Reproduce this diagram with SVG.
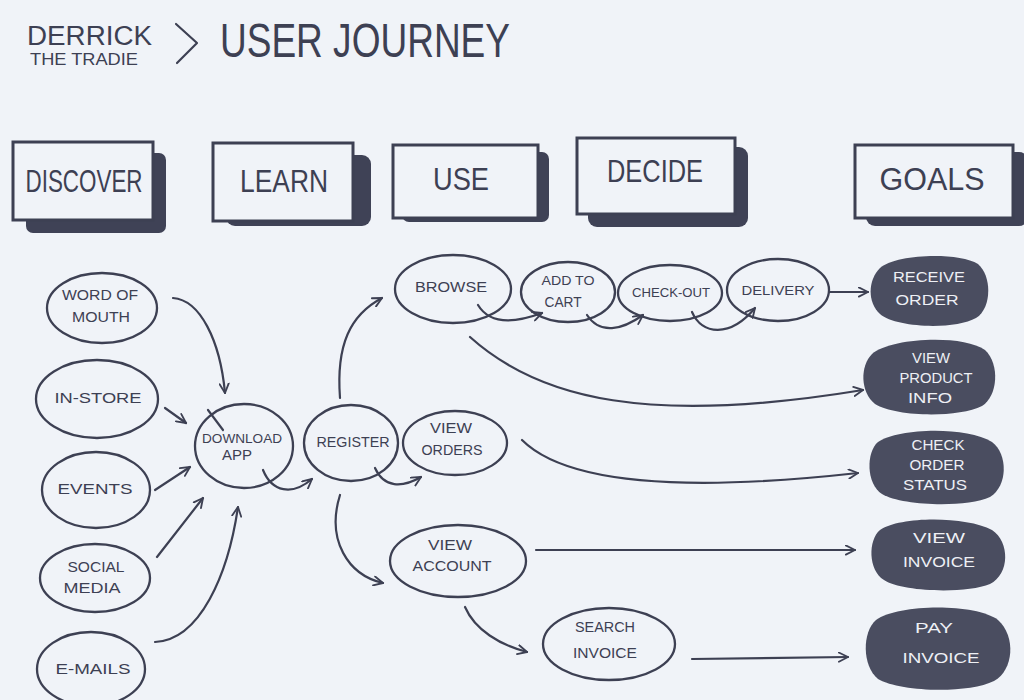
<svg xmlns="http://www.w3.org/2000/svg" width="1024" height="700" viewBox="0 0 1024 700">
  <style>
    .ink { fill: none; stroke: #3d4053; stroke-width: 2.2; stroke-linecap: round; stroke-linejoin: round; }
    .box { fill: #f0f3f8; stroke: #3d4053; stroke-width: 3; }
    .shadow { fill: #3f4256; }
    .node { fill: none; stroke: #3d4053; stroke-width: 2.3; }
    .goal { fill: #4a4d60; }
    .t { font-family: "Liberation Sans", "DejaVu Sans", sans-serif; fill: #3d4053; text-anchor: middle; }
    .start { text-anchor: start; }
    .hdr { font-size: 31px; }
    .sm { font-size: 15px; }
    .gt { font-family: "Liberation Sans", "DejaVu Sans", sans-serif; fill: #eef0f5; text-anchor: middle; font-size: 15px; }
    .arrow { fill: none; stroke: #3d4053; stroke-width: 2.2; stroke-linecap: round; marker-end: url(#head); }
  </style>
  <defs>
    <marker id="head" viewBox="0 0 12 12" refX="11" refY="6" markerWidth="11" markerHeight="11" markerUnits="userSpaceOnUse" orient="auto">
      <path d="M1,1 L11,6 L1,11" fill="none" stroke="#3d4053" stroke-width="2" stroke-linecap="round" stroke-linejoin="round"/>
    </marker>
    <marker id="headL" viewBox="0 0 12 12" refX="11" refY="6" markerWidth="22" markerHeight="22" markerUnits="userSpaceOnUse" orient="auto">
      <path d="M1,1 L11,6 L1,11" fill="none" stroke="#3d4053" stroke-width="1.4" stroke-linecap="round" stroke-linejoin="round"/>
    </marker>
  </defs>

  <rect width="1024" height="700" fill="#f0f3f8"/>

  <!-- title -->
  <g id="title">
    <text class="t start" x="27" y="45" font-size="27" textLength="125" lengthAdjust="spacingAndGlyphs">DERRICK</text>
    <text class="t start" x="30" y="65" font-size="16" textLength="108" lengthAdjust="spacingAndGlyphs">THE TRADIE</text>
    <path class="ink" d="M176,24 L197,43 L177,63" stroke-width="3.8"/>
    <text class="t start" x="220" y="57" font-size="48" textLength="290" lengthAdjust="spacingAndGlyphs">USER JOURNEY</text>
  </g>

  <!-- stage headers -->
  <g id="hdr-discover">
    <rect class="shadow" x="26" y="153" width="140" height="80" rx="7"/>
    <rect class="box" x="13" y="142" width="140" height="78"/>
    <text class="t hdr" x="84" y="192" textLength="117" lengthAdjust="spacingAndGlyphs">DISCOVER</text>
  </g>
  <g id="hdr-learn">
    <rect class="shadow" x="226" y="155" width="145" height="71" rx="9"/>
    <rect class="box" x="213" y="143" width="140" height="78"/>
    <text class="t hdr" x="284" y="192" textLength="88" lengthAdjust="spacingAndGlyphs">LEARN</text>
  </g>
  <g id="hdr-use">
    <rect class="shadow" x="402" y="152" width="147" height="70" rx="7"/>
    <rect class="box" x="393" y="145" width="145" height="73"/>
    <text class="t hdr" x="461" y="190" textLength="56" lengthAdjust="spacingAndGlyphs">USE</text>
  </g>
  <g id="hdr-decide">
    <rect class="shadow" x="588" y="147" width="160" height="80" rx="9"/>
    <rect class="box" x="577" y="138" width="158" height="76"/>
    <text class="t hdr" x="655" y="182" textLength="96" lengthAdjust="spacingAndGlyphs">DECIDE</text>
  </g>
  <g id="hdr-goals">
    <rect class="shadow" x="866" y="152" width="162" height="74" rx="9"/>
    <rect class="box" x="855" y="145" width="158" height="73"/>
    <text class="t hdr" x="932" y="190" textLength="105" lengthAdjust="spacingAndGlyphs">GOALS</text>
  </g>

  <!-- connectors -->
  <g id="connectors">
    <path class="arrow" marker-end="url(#headL)" d="M173,298 C200,300 220,340 225,393"/>
    <path class="arrow" marker-end="url(#headL)" d="M165,408 L186,423" stroke-width="3.2"/>
    <path class="ink" d="M208,410 L223,430" stroke-width="1.6"/>
    <path class="arrow" marker-end="url(#headL)" d="M155,490 L190,467" stroke-width="2.6"/>
    <path class="arrow" marker-end="url(#headL)" d="M157,557 L203,498"/>
    <path class="arrow" marker-end="url(#headL)" d="M155,642 C200,640 228,575 238,507" stroke-width="2.8"/>
    <path class="arrow" d="M263,470 C272,492 292,496 312,479"/>
    <path class="arrow" marker-end="url(#headL)" d="M340,398 C336,345 350,315 382,298" stroke-width="2.6"/>
    <path class="arrow" marker-end="url(#headL)" d="M340,495 C326,540 348,575 383,583" stroke-width="2.6"/>
    <path class="arrow" d="M375,468 C384,488 402,488 421,477"/>
    <path class="arrow" d="M478,305 C490,325 515,323 542,313"/>
    <path class="arrow" d="M587,315 C600,335 622,330 643,315"/>
    <path class="arrow" d="M692,312 C702,335 730,338 755,308"/>
    <path class="arrow" marker-end="url(#headL)" d="M829,292 L868,292" stroke-width="2.4"/>
    <path class="arrow" marker-end="url(#headL)" d="M470,337 C540,400 650,425 863,390" stroke-width="2.4"/>
    <path class="arrow" marker-end="url(#headL)" d="M522,440 C560,478 660,495 858,473" stroke-width="2.4"/>
    <path class="arrow" marker-end="url(#headL)" d="M536,550 L855,550" stroke-width="1.8"/>
    <path class="arrow" marker-end="url(#headL)" d="M465,607 C475,630 500,645 527,652" stroke-width="2.6"/>
    <path class="arrow" marker-end="url(#headL)" d="M692,659 L848,657" stroke-width="1.8"/>
  </g>

  <!-- discover sources -->
  <g id="word-of-mouth">
    <ellipse class="node" cx="102" cy="308" rx="55" ry="35"/>
    <text class="t sm" x="100" y="300" textLength="76" lengthAdjust="spacingAndGlyphs">WORD OF</text>
    <text class="t sm" x="101" y="322" textLength="58" lengthAdjust="spacingAndGlyphs">MOUTH</text>
  </g>
  <g id="in-store">
    <ellipse class="node" cx="97" cy="399" rx="61" ry="39" stroke-width="2.7"/>
    <text class="t sm" x="98" y="403" font-size="17" textLength="87" lengthAdjust="spacingAndGlyphs">IN-STORE</text>
  </g>
  <g id="events">
    <ellipse class="node" cx="96" cy="490" rx="54" ry="38" stroke-width="2.7"/>
    <text class="t sm" x="95" y="494" textLength="75" lengthAdjust="spacingAndGlyphs">EVENTS</text>
  </g>
  <g id="social-media">
    <ellipse class="node" cx="95" cy="578" rx="55" ry="34" stroke-width="2.5"/>
    <text class="t sm" x="96" y="572" textLength="57" lengthAdjust="spacingAndGlyphs">SOCIAL</text>
    <text class="t sm" x="92" y="593" textLength="57" lengthAdjust="spacingAndGlyphs">MEDIA</text>
  </g>
  <g id="e-mails">
    <ellipse class="node" cx="91" cy="669" rx="54" ry="37" stroke-width="2.7"/>
    <text class="t sm" x="93" y="674" textLength="75" lengthAdjust="spacingAndGlyphs">E-MAILS</text>
  </g>

  <!-- learn / use -->
  <g id="download-app">
    <ellipse class="node" cx="244" cy="446" rx="49" ry="42"/>
    <text class="t" x="242" y="443" font-size="13" textLength="80" lengthAdjust="spacingAndGlyphs">DOWNLOAD</text>
    <text class="t" x="237" y="460" font-size="14" textLength="30" lengthAdjust="spacingAndGlyphs">APP</text>
  </g>
  <g id="register">
    <ellipse class="node" cx="351" cy="443" rx="47" ry="38"/>
    <text class="t sm" x="353" y="447" textLength="73" lengthAdjust="spacingAndGlyphs">REGISTER</text>
  </g>
  <g id="view-orders">
    <ellipse class="node" cx="455" cy="443" rx="52" ry="32"/>
    <text class="t sm" x="451" y="433" font-size="13" textLength="42" lengthAdjust="spacingAndGlyphs">VIEW</text>
    <text class="t sm" x="452" y="455" font-size="14" textLength="61" lengthAdjust="spacingAndGlyphs">ORDERS</text>
  </g>
  <g id="view-account">
    <ellipse class="node" cx="458" cy="561" rx="68" ry="36"/>
    <text class="t sm" x="450" y="550" font-size="14" textLength="44" lengthAdjust="spacingAndGlyphs">VIEW</text>
    <text class="t sm" x="452" y="571" font-size="14" textLength="79" lengthAdjust="spacingAndGlyphs">ACCOUNT</text>
  </g>
  <g id="search-invoice">
    <ellipse class="node" cx="609" cy="644" rx="66" ry="36" stroke-width="2.7"/>
    <text class="t sm" x="605" y="632" font-size="14" textLength="60" lengthAdjust="spacingAndGlyphs">SEARCH</text>
    <text class="t sm" x="605" y="658" textLength="64" lengthAdjust="spacingAndGlyphs">INVOICE</text>
  </g>

  <!-- decide -->
  <g id="browse">
    <ellipse class="node" cx="453" cy="289" rx="58" ry="34" stroke-width="2.5"/>
    <text class="t sm" x="451" y="292" textLength="72" lengthAdjust="spacingAndGlyphs">BROWSE</text>
  </g>
  <g id="add-to-cart">
    <ellipse class="node" cx="568" cy="292" rx="47" ry="30"/>
    <text class="t" x="568" y="285" font-size="12" textLength="53" lengthAdjust="spacingAndGlyphs">ADD TO</text>
    <text class="t" x="563" y="307" font-size="14" textLength="37" lengthAdjust="spacingAndGlyphs">CART</text>
  </g>
  <g id="check-out">
    <ellipse class="node" cx="670" cy="293" rx="52" ry="28"/>
    <text class="t" x="671" y="297" font-size="13" textLength="78" lengthAdjust="spacingAndGlyphs">CHECK-OUT</text>
  </g>
  <g id="delivery">
    <ellipse class="node" cx="778" cy="290" rx="51" ry="31"/>
    <text class="t" x="778" y="295" font-size="13" textLength="73" lengthAdjust="spacingAndGlyphs">DELIVERY</text>
  </g>

  <!-- goals -->
  <g id="receive-order">
    <path class="goal" d="M880,268 C896,254 958,252 978,264 C992,276 992,308 976,318 C955,330 896,328 880,314 C867,302 868,280 880,268 Z"/>
    <text class="gt" x="929" y="282" textLength="72" lengthAdjust="spacingAndGlyphs">RECEIVE</text>
    <text class="gt" x="927" y="305" textLength="63" lengthAdjust="spacingAndGlyphs">ORDER</text>
  </g>
  <g id="view-product-info">
    <path class="goal" d="M872,354 C890,338 962,334 985,350 C1000,364 998,396 982,406 C958,418 896,417 875,404 C860,392 860,366 872,354 Z"/>
    <text class="gt" x="931" y="363" textLength="38" lengthAdjust="spacingAndGlyphs">VIEW</text>
    <text class="gt" x="936" y="383" textLength="73" lengthAdjust="spacingAndGlyphs">PRODUCT</text>
    <text class="gt" x="930" y="403" textLength="44" lengthAdjust="spacingAndGlyphs">INFO</text>
  </g>
  <g id="check-order-status">
    <path class="goal" d="M878,442 C898,428 966,426 992,442 C1008,454 1008,486 990,497 C966,508 902,506 882,494 C866,484 866,452 878,442 Z"/>
    <text class="gt" x="938" y="450" textLength="53" lengthAdjust="spacingAndGlyphs">CHECK</text>
    <text class="gt" x="937" y="470" textLength="55" lengthAdjust="spacingAndGlyphs">ORDER</text>
    <text class="gt" x="935" y="490" textLength="64" lengthAdjust="spacingAndGlyphs">STATUS</text>
  </g>
  <g id="view-invoice">
    <path class="goal" d="M880,530 C900,516 966,516 992,530 C1010,542 1010,574 990,584 C966,594 902,592 884,580 C868,570 868,540 880,530 Z"/>
    <text class="gt" x="939" y="543" textLength="52" lengthAdjust="spacingAndGlyphs">VIEW</text>
    <text class="gt" x="939" y="567" textLength="72" lengthAdjust="spacingAndGlyphs">INVOICE</text>
  </g>
  <g id="pay-invoice">
    <path class="goal" d="M876,620 C898,604 975,603 998,620 C1016,636 1014,670 994,681 C968,694 900,692 878,679 C862,666 862,632 876,620 Z"/>
    <text class="gt" x="934" y="633" font-size="17" textLength="38" lengthAdjust="spacingAndGlyphs">PAY</text>
    <text class="gt" x="941" y="663" font-size="17" textLength="77" lengthAdjust="spacingAndGlyphs">INVOICE</text>
  </g>
</svg>
